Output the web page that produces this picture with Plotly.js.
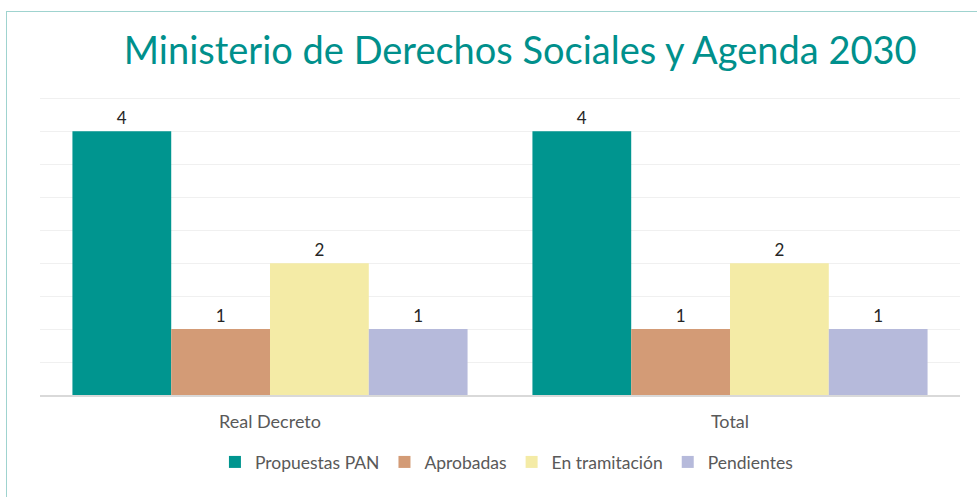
<!DOCTYPE html>
<html>
<head>
<meta charset="utf-8">
<script src="https://cdn.plot.ly/plotly-3.0.1.min.js"></script>
<style>
  html, body { margin: 0; padding: 0; background: #fff; }
  #wrap { position: relative; width: 977px; height: 497px; overflow: hidden; }
  #frame { position: absolute; left: 6px; top: 11px; width: 1000px; height: 520px; border: 1px solid #9fd3cf; box-sizing: border-box; pointer-events: none; }
  #chart { position: absolute; left: 0; top: 0; width: 977px; height: 497px; }
</style>
</head>
<body>
<div id="wrap">
  <div id="chart"></div>
  <div id="frame"></div>
</div>
<script>
const categories = ["Real Decreto", "Total"];
const seriesNames = ["Propuestas PAN", "Aprobadas", "En tramitación", "Pendientes"];
const propuestas = [4, 4];
const aprobadas = [1, 1];
const tramitacion = [2, 2];
const pendientes = [1, 1];
const colors = ["#00958f", "#d39b76", "#f4eba6", "#b6badb"];

const values = [propuestas, aprobadas, tramitacion, pendientes];
const traces = values.map((v, i) => ({
  type: 'bar',
  name: seriesNames[i],
  x: categories,
  y: v,
  marker: { color: colors[i], line: { width: 0 } },
  text: v.map(String),
  textposition: 'outside',
  cliponaxis: false,
  textfont: { family: 'Lato, sans-serif', size: 17, color: '#262626' }
}));

const layout = {
  width: 977, height: 497,
  margin: { l: 40, r: 17, t: 97, b: 102 },
  paper_bgcolor: 'rgba(0,0,0,0)',
  plot_bgcolor: 'rgba(0,0,0,0)',
  barmode: 'group',
  bargap: 0.141,
  bargroupgap: 0,
  title: {
    text: 'Ministerio de Derechos Sociales y Agenda 2030',
    font: { family: 'Lato, sans-serif', size: 38, color: '#00908c' },
    x: 0.522, xref: 'paper', xanchor: 'center',
    y: 0.897, yref: 'container', yanchor: 'middle'
  },
  xaxis: {
    showgrid: false,
    showline: true, linecolor: '#d9d9d9', linewidth: 2,
    ticks: '',
    tickfont: { family: 'Lato, sans-serif', size: 18, color: '#595959' },
    ticklabelstandoff: 9
  },
  yaxis: {
    range: [0, 4.52],
    dtick: 0.5,
    showgrid: true, gridcolor: '#f0f0f0', gridwidth: 1,
    showticklabels: false,
    zeroline: false,
    ticks: ''
  },
  showlegend: true,
  legend: {
    orientation: 'h',
    x: 0.507, xanchor: 'center',
    y: -0.225, yanchor: 'middle',
    font: { family: 'Lato, sans-serif', size: 17.5, color: '#595959' },
    itemwidth: 30,
    tracegroupgap: 0,
    traceorder: 'normal'
  },
  font: { family: 'Lato, sans-serif' }
};

Plotly.newPlot('chart', traces, layout, { displayModeBar: false, staticPlot: true });
</script>
</body>
</html>
